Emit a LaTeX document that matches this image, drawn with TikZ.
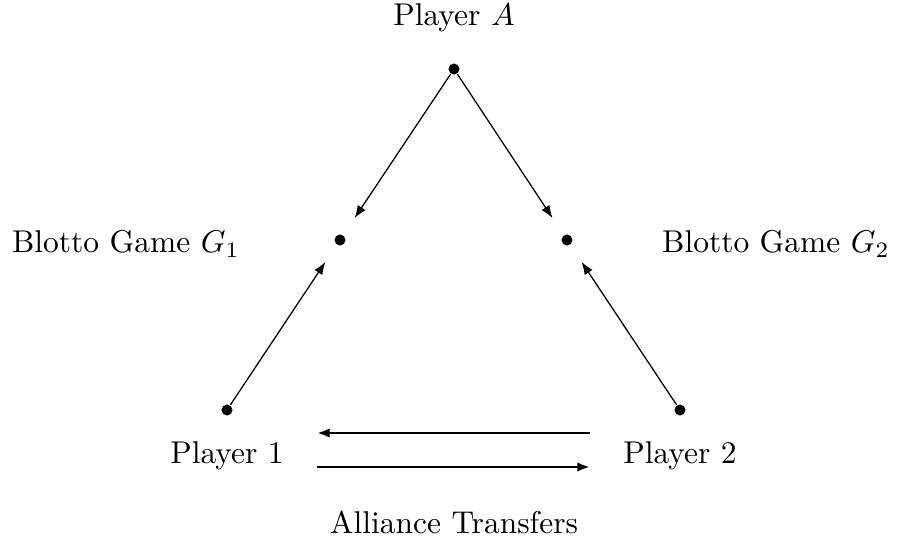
\documentclass[tikz,border=0pt]{standalone}
\usetikzlibrary{arrows.meta}
\begin{document}
\begin{tikzpicture}[x=0.3175pt,y=-0.3175pt,
  pt/.style={circle,fill=black,inner sep=0pt,minimum size=3.5pt},
  lbl/.style={inner sep=0pt,font=\fontsize{10}{12}\selectfont},
  diag/.style={line width=0.4pt,-{Latex[length=4pt,width=3pt]},shorten >=6.4pt},
  horiz/.style={line width=0.9pt,-{Latex[length=4pt,width=3pt]}}]
\useasboundingbox (0,0) rectangle (899,546);
\node[pt] (A) at (454,69) {};
\node[pt] (G1) at (340,240) {};
\node[pt] (G2) at (567,240) {};
\node[pt] (P1) at (227,410) {};
\node[pt] (P2) at (680,410) {};
\node[lbl] (lA) at (454,18) {Player $A$};
\node[lbl] (lG1) at (126,244) {Blotto Game $G_1$};
\node[lbl] (lG2) at (776,244) {Blotto Game $G_2$};
\node[lbl] (lP1) at (227,456) {Player 1};
\node[lbl] (lP2) at (680,456) {Player 2};
\node[lbl] (lT) at (454,522) {Alliance Transfers};
\coordinate (t1) at (590,433);
\coordinate (t2) at (317,433);
\coordinate (b1) at (317,467);
\coordinate (b2) at (590,467);
\draw[diag] (A) -- (G1);
\draw[diag] (A) -- (G2);
\draw[diag] (P1) -- (G1);
\draw[diag] (P2) -- (G2);
\draw[horiz] (t1) -- (t2);
\draw[horiz] (b1) -- (b2);
\end{tikzpicture}
\end{document}
